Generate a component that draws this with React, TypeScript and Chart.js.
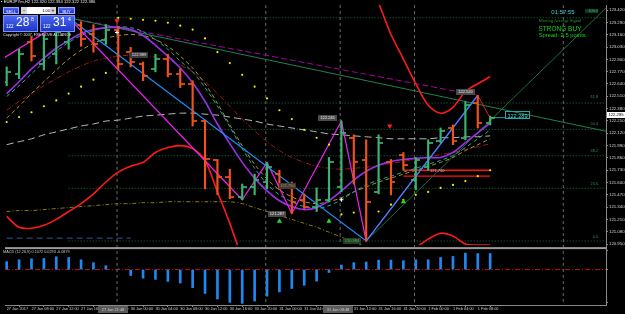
import { useEffect, useRef } from "react";
import { Chart, registerables } from "chart.js";

Chart.register(...registerables);

// ---------------- axes ----------------
const timeTickIndex = [0, 2, 4, 6, 8, 10, 12, 14, 16, 18, 20, 22, 24, 26, 28, 30, 32, 34, 36, 38];
const timeTickText = [
  "27 Jan 2017", "27 Jan 08:00", "27 Jan 12:00", "27 Jan 16:00", "27 Jan 20:00",
  "30 Jan 00:00", "30 Jan 04:00", "30 Jan 08:00", "30 Jan 12:00", "30 Jan 16:00", "30 Jan 20:00",
  "31 Jan 00:00", "31 Jan 04:00", "31 Jan 08:00", "31 Jan 12:00", "31 Jan 16:00", "31 Jan 20:00",
  "1 Feb 00:00", "1 Feb 04:00", "1 Feb 08:00",
];
const priceTicks = [123.42, 123.29, 123.16, 123.03, 122.9, 122.77, 122.64, 122.51, 122.38, 122.25, 122.12, 121.99, 121.86, 121.73, 121.6, 121.47, 121.34, 121.21, 121.08, 120.95];
const priceMin = 120.309;
const priceMax = 123.473;
const mainPaneBottom = 120.93;
const indexMin = -0.136;
const indexMax = 48.344;

// MACD pane scale and its labels
const macdMin = -0.3534;
const macdMax = 2.6397;
const macdTickPos = [0.186, 0, -0.324];
const macdTickText = ["0.3378", "0.00", "-0.3534"];

// ---------------- OHLC (EURJPY H2) ----------------
const opens = [122.664, 122.747, 123.079, 122.851, 122.954, 123.079, 123.266, 123.162, 123.100, 123.214, 122.975, 122.851, 122.799, 122.903, 122.747, 122.643, 122.249, 121.834, 121.658, 121.450, 121.554, 121.606, 121.689, 121.575, 121.419, 121.347, 121.419, 121.554, 122.073, 121.834, 121.502, 121.813, 121.896, 121.627, 121.762, 122.042, 122.176, 122.073, 122.436, 122.228];
const highs = [122.820, 123.006, 123.141, 123.162, 123.245, 123.338, 123.297, 123.266, 123.266, 123.245, 123.027, 122.871, 122.954, 122.954, 122.799, 122.674, 122.259, 121.844, 121.741, 121.585, 121.689, 121.813, 121.730, 121.606, 121.481, 121.544, 121.865, 122.249, 122.104, 122.052, 122.104, 121.844, 121.917, 121.865, 122.052, 122.176, 122.208, 122.456, 122.519, 122.301];
const lows = [122.622, 122.695, 122.882, 122.788, 122.851, 123.006, 123.037, 122.975, 123.058, 122.788, 122.820, 122.674, 122.768, 122.716, 122.602, 122.197, 121.533, 121.471, 121.430, 121.419, 121.471, 121.533, 121.523, 121.274, 121.326, 121.295, 121.398, 121.502, 121.585, 120.984, 121.481, 121.471, 121.730, 121.523, 121.730, 122.021, 122.000, 122.052, 122.176, 122.208];
const closes = [122.768, 122.954, 122.934, 123.110, 123.183, 123.266, 123.110, 123.058, 123.214, 122.851, 122.871, 122.726, 122.903, 122.747, 122.643, 122.249, 121.844, 121.658, 121.450, 121.554, 121.627, 121.762, 121.575, 121.398, 121.347, 121.419, 121.813, 122.125, 121.813, 121.398, 122.021, 121.606, 121.782, 121.834, 122.021, 122.145, 122.042, 122.415, 122.228, 122.285];

// ---------------- MACD histogram ----------------
const macd = [0.079, 0.098, 0.108, 0.111, 0.128, 0.121, 0.098, 0.069, 0.039, 0.005, -0.059, -0.085, -0.098, -0.118, -0.134, -0.180, -0.238, -0.294, -0.327, -0.337, -0.314, -0.265, -0.223, -0.189, -0.157, -0.115, -0.029, 0.046, 0.069, 0.076, 0.095, 0.095, 0.088, 0.098, 0.098, 0.121, 0.131, 0.164, 0.160, 0.160];

// ---------------- moving averages / bands ----------------
const maPurple = [122.539, 122.664, 122.799, 122.913, 123.017, 123.100, 123.172, 123.214, 123.234, 123.234, 123.214, 123.151, 123.048, 122.934, 122.809, 122.654, 122.456, 122.218, 122.010, 121.813, 121.647, 121.512, 121.409, 121.347, 121.315, 121.336, 121.409, 121.512, 121.627, 121.720, 121.782, 121.824, 121.844, 121.855, 121.865, 121.865, 121.917, 122.021, 122.125, 122.228];
const maCyan = [122.508, 122.622, 122.747, 122.871, 122.985, 123.079, 123.151, 123.203, 123.234, 123.245, 123.234, 123.193, 123.110, 123.006, 122.882, 122.768, 122.602, 122.405, 122.187, 121.958, 121.751, 121.585, 121.471, 121.398, 121.347, 121.326, 121.357, 121.419, 121.502, 121.575, 121.627, 121.668, 121.710, 121.751, 121.793, 121.834, 121.886, 121.969, 122.062, 122.156];
const maOlive = [122.280, 122.405, 122.539, 122.664, 122.788, 122.903, 122.996, 123.068, 123.120, 123.151, 123.162, 123.151, 123.110, 123.037, 122.934, 122.809, 122.643, 122.436, 122.208, 121.990, 121.793, 121.637, 121.523, 121.450, 121.398, 121.378, 121.398, 121.440, 121.502, 121.554, 121.606, 121.647, 121.689, 121.730, 121.772, 121.813, 121.865, 121.938, 122.000, 122.062];
const maDarkRed = [122.363, 122.456, 122.539, 122.622, 122.695, 122.768, 122.830, 122.882, 122.913, 122.934, 122.944, 122.944, 122.923, 122.892, 122.840, 122.768, 122.664, 122.539, 122.405, 122.270, 122.145, 122.031, 121.938, 121.865, 121.813, 121.772, 121.751, 121.741, 121.751, 121.762, 121.782, 121.803, 121.824, 121.844, 121.865, 121.896, 121.917, 121.948, 121.979, 122.010];
const maGray = [122.000, 122.031, 122.062, 122.104, 122.135, 122.166, 122.197, 122.218, 122.249, 122.259, 122.280, 122.301, 122.311, 122.322, 122.332, 122.332, 122.322, 122.311, 122.291, 122.270, 122.249, 122.218, 122.197, 122.176, 122.156, 122.135, 122.114, 122.104, 122.093, 122.083, 122.073, 122.062, 122.062, 122.062, 122.062, 122.073, 122.073, 122.083, 122.083, 122.093];
const maLowOlive = [121.295, 121.305, 121.305, 121.315, 121.326, 121.336, 121.347, 121.357, 121.367, 121.378, 121.378, 121.388, 121.388, 121.398, 121.398, 121.398, 121.398, 121.398, 121.398, 121.378, 121.336, 121.295, 121.253, 121.212, 121.170, 121.129, 121.077, 121.025, 120.973, 120.921];
const blueFaint = [121.014, 121.014, 121.014, 121.014, 121.014, 121.014, 121.014, 121.014, 121.014, 121.014, 121.014];
const bandLower = [121.243, 121.129, 121.118, 121.149, 121.212, 121.295, 121.378, 121.481, 121.606, 121.710, 121.772, 121.813, 121.917, 121.969, 121.990, 121.958, 121.834, 121.502, 121.170, 120.797, 120.465, 120.154, 119.946, 119.842, 119.791, 119.842, 119.946, 120.154, 120.361, 120.465, 120.569, 120.693, 120.797, 120.911, 121.004, 121.066, 121.036, 120.952, 120.942, 120.942];
const bandUpper = [null, null, null, null, null, null, null, null, null, null, null, null, null, null, null, null, null, null, null, null, null, null, null, null, null, null, null, null, null, 123.784, 123.494, 123.162, 122.903, 122.643, 122.415, 122.332, 122.394, 122.560, 122.643, 122.716];

// parabolic SAR
const sar = [122.239, 122.291, 122.342, 122.405, 122.467, 122.539, 122.612, 122.685, 122.757, 123.338, 123.328, 123.317, 123.307, 123.286, 123.255, 123.214, 123.120, 122.975, 122.861, 122.737, 122.612, 122.488, 122.363, 122.270, 122.156, 122.073, 122.000, 121.264, 121.284, null, 121.295, 121.367, 121.419, 121.471, 121.502, 121.544, 121.575, 121.616, 121.668, 121.730];

// zigzags / objects
const zigIndex = [-1, 5, 19, 21, 23, 27, 29, 38];
const zigPrice = [122.851, 123.338, 121.419, 121.813, 121.274, 122.249, 120.984, 122.519];
const blueZigIndex = [5, 29, 38];
const blueZigPrice = [123.338, 120.984, 122.519];
const lastLegIndex = [38, 39];
const lastLegPrice = [122.519, 122.280];
const greenTrendIndex = [5, 48.344];
const greenTrendPrice = [123.338, 122.141];
const magentaTrendIndex = [5, 38];
const magentaTrendPrice = [123.338, 122.519];
const fanIndex = [29, 48.344];
const fanPrice = [120.984, 123.442];
const fibStart = 5;
const fibNames = ["0.0", "23.6", "38.2", "50.0", "61.8", "100.0"];
const fibPrices = [120.984, 121.540, 121.883, 122.161, 122.439, 123.338];
const redLevelPrices = [121.730, 121.668];
const redLevelFrom = 32;
const redLevelTo = 39;
const currentPrice = 122.285;
const vLinesFull = [8.9, 20.9, 32.9, 44.9];
const vLinesMain = [26.9];
const downArrowX = [8.9, 30.9];
const downArrowY = [123.307, 122.197];
const upArrowX = [22, 26, 32];
const upArrowY = [121.191, 121.191, 121.398];
const crossX = [8.9, 27];
const crossY = [123.183, 121.419];

const BULL = "#3cb371";
const BEAR = "#f0521e";
const mainClip = { left: 0, top: 0, right: 0, bottom: -60 };

const zip = (xs: number[], ys: (number | null)[]) =>
  xs.map((x, i) => ({ x, y: ys[i] })).filter((p) => p.y !== null);
const ser = (ys: (number | null)[]) => zip(ys.map((_, i) => i), ys);

function tickImg(color: string, left: boolean) {
  const c = document.createElement("canvas");
  c.width = 9;
  c.height = 2;
  const g = c.getContext("2d")!;
  g.fillStyle = color;
  g.globalAlpha = 0.85;
  g.fillRect(left ? 0 : 5, 0, 4, 2);
  return c;
}

const line = (data: any[], color: string, width: number, dash: number[] = [], extra: any = {}) => ({
  type: "line",
  data,
  borderColor: color,
  borderWidth: width,
  borderDash: dash,
  pointRadius: 0,
  tension: 0,
  clip: mainClip,
  ...extra,
});

const panes = {
  id: "panes",
  afterDatasetsDraw(chart: any) {
    const { ctx, chartArea, scales } = chart;
    const y = scales.y.getPixelForValue(mainPaneBottom);
    ctx.save();
    ctx.fillStyle = "#9a9a9a";
    ctx.fillRect(chartArea.left, y + 1, chartArea.right - chartArea.left, 2);
    ctx.restore();
  },
};

type TP = {
  x: number; y: number; s: number; c: string; t: string; f?: string; bg?: string; bd?: string;
  w?: number; h?: number; a?: "left" | "center" | "right"; b?: boolean;
};
const T = (p: TP) => (
  <div
    style={{
      position: "absolute",
      left: p.x,
      top: p.y,
      width: p.w,
      height: p.h,
      fontSize: p.s,
      lineHeight: p.h ? p.h + "px" : p.s * 1.15 + "px",
      color: p.c,
      fontFamily: p.f || "'Liberation Sans', Arial, sans-serif",
      background: p.bg,
      border: p.bd,
      textAlign: p.a || "left",
      fontWeight: p.b ? "bold" : "normal",
      whiteSpace: "nowrap",
      boxSizing: "border-box",
    }}
  >
    {p.t}
  </div>
);

export default function App() {
  const ref = useRef<HTMLCanvasElement>(null);
  useEffect(() => {
    document.body.style.margin = "0";
    document.body.style.background = "#000";
    const gL = tickImg(BULL, true), gR = tickImg(BULL, false);
    const rL = tickImg(BEAR, true), rR = tickImg(BEAR, false);
    const isBull = opens.map((o, i) => closes[i] >= o);

    const datasets: any[] = [
      { type: "scatter", data: zip(downArrowX, downArrowY), pointStyle: "triangle", rotation: 180, pointRadius: 3, backgroundColor: "#ff2020", borderWidth: 0, clip: mainClip },
      { type: "scatter", data: zip(upArrowX, upArrowY), pointStyle: "triangle", pointRadius: 3, backgroundColor: "#22dd22", borderWidth: 0, clip: mainClip },
      { type: "scatter", data: zip(crossX, crossY), pointStyle: "cross", pointRadius: 2, borderColor: "#ffffff", borderWidth: 1, clip: mainClip },
      { type: "scatter", data: ser(sar), pointStyle: "circle", pointRadius: 1.1, backgroundColor: "#f0f000", borderWidth: 0, clip: mainClip },
      { type: "scatter", data: ser(opens), pointStyle: isBull.map((b) => (b ? gL : rL)), pointRadius: 2, clip: mainClip },
      { type: "scatter", data: ser(closes), pointStyle: isBull.map((b) => (b ? gR : rR)), pointRadius: 2, clip: mainClip },
      {
        type: "bar",
        data: highs.map((h, i) => ({ x: i, y: [lows[i], h] })),
        backgroundColor: isBull.map((b) => (b ? BULL : BEAR)),
        barThickness: 1.5,
        grouped: false,
        borderWidth: 0,
        clip: mainClip,
      },
      line(zip(lastLegIndex, lastLegPrice), "#e02020", 1),
      line(zip(blueZigIndex, blueZigPrice), "#1e90ff", 1.2),
      line(zip(zigIndex, zigPrice), "#ee22ee", 1.2),
      line(ser(bandLower), "#ff1a1a", 1.6, [], { tension: 0.3 }),
      line(ser(bandUpper), "#ff1a1a", 1.6, [], { tension: 0.3 }),
      line(ser(maPurple), "#9b30e8", 1.6, [], { tension: 0.3 }),
      line(ser(maCyan), "#1fa8a0", 1, [4, 3], { tension: 0.3 }),
      line(ser(maOlive), "#a89520", 1, [4, 3], { tension: 0.3 }),
      line(ser(maDarkRed), "#9a1a1a", 1, [5, 2, 1, 2], { tension: 0.3 }),
      line(ser(maGray), "#b8b8b8", 1, [7, 4], { tension: 0.3 }),
      line(ser(maLowOlive), "#8a7a12", 1, [4, 2, 1, 2], { tension: 0.3 }),
      line(ser(blueFaint), "#2a5a9a", 1, [6, 4]),
      line(zip(greenTrendIndex, greenTrendPrice), "#1f8050", 1),
      line(zip(magentaTrendIndex, magentaTrendPrice), "#a400a4", 1, [6, 3]),
      line(zip(fanIndex, fanPrice), "#1a7040", 1),
      ...redLevelPrices.map((p) => line(zip([redLevelFrom, redLevelTo], [p, p]), "#ff1010", 1.3)),
      line(zip([39, 40.3], [currentPrice, currentPrice]), "#2aa0a0", 1),
      ...fibPrices.map((p) => line(zip([fibStart, indexMax], [p, p]), "#137a3c", 1, [1, 2])),
      ...vLinesMain.map((x) => line(zip([x, x], [priceMax, mainPaneBottom]), "#6a6a6a", 1, [3, 3])),
      ...vLinesFull.map((x) => ({ ...line(zip([x, x], [priceMax, priceMin]), "#6a6a6a", 1, [3, 3]), clip: undefined })),
      {
        type: "bar",
        data: macd.map((v, i) => ({ x: i, y: v })),
        yAxisID: "y2",
        backgroundColor: "#1e88f0",
        barThickness: 2,
        grouped: false,
        borderWidth: 0,
      },
      { type: "line", data: zip([indexMin, indexMax], [0, 0]), yAxisID: "y2", borderColor: "#c01010", borderWidth: 1, borderDash: [5, 2, 1, 2], pointRadius: 0 },
    ];

    const chart = new Chart(ref.current!, {
      type: "scatter",
      data: { datasets },
      options: {
        responsive: false,
        devicePixelRatio: 1,
        animation: false,
        events: [],
        layout: { padding: 0 },
        plugins: { legend: { display: false }, tooltip: { enabled: false } },
        scales: {
          x: {
            type: "linear",
            min: indexMin,
            max: indexMax,
            position: "bottom",
            offset: false,
            grid: { display: true, drawOnChartArea: false, drawTicks: true, tickLength: 2, color: "#8a8a8a" },
            border: { display: true, color: "#8a8a8a" },
            ticks: {
              color: "#cfcfcf",
              font: { size: 3.9, family: "'Liberation Sans', Arial, sans-serif" },
              align: "start",
              padding: 0,
              autoSkip: false,
              maxRotation: 0,
              minRotation: 0,
              callback: (v: any) => {
                const k = timeTickIndex.indexOf(Number(v));
                return k >= 0 ? timeTickText[k] : "";
              },
            },
            afterBuildTicks: (s: any) => {
              s.ticks = timeTickIndex.map((v) => ({ value: v }));
            },
            afterFit: (s: any) => {
              s.height = 9;
              s.paddingLeft = 0;
              s.paddingRight = 0;
            },
          },
          y: {
            type: "linear",
            position: "right",
            weight: 1,
            min: priceMin,
            max: priceMax,
            grid: { display: true, drawOnChartArea: false, drawTicks: true, tickLength: 2, color: "#8a8a8a" },
            border: { display: true, color: "#8a8a8a" },
            ticks: {
              color: "#d8d8d8",
              font: { size: 4.3, family: "'Liberation Sans', Arial, sans-serif" },
              padding: 1,
              callback: (v: any) => Number(v).toFixed(3),
            },
            afterBuildTicks: (s: any) => {
              s.ticks = priceTicks.map((v) => ({ value: v }));
            },
            afterFit: (s: any) => {
              s.width = 19;
              s.paddingTop = 0;
              s.paddingBottom = 0;
            },
          },
          y2: {
            type: "linear",
            position: "right",
            weight: 0,
            min: macdMin,
            max: macdMax,
            grid: { display: true, drawOnChartArea: false, drawTicks: true, tickLength: 2, color: "#8a8a8a" },
            border: { display: false },
            ticks: {
              color: "#d8d8d8",
              font: { size: 4.3, family: "'Liberation Sans', Arial, sans-serif" },
              padding: 1,
              callback: (_v: any, i: number) => macdTickText[i],
            },
            afterBuildTicks: (s: any) => {
              s.ticks = macdTickPos.map((v) => ({ value: v }));
            },
            afterFit: (s: any) => {
              s.width = 0;
              s.paddingTop = 0;
              s.paddingBottom = 0;
            },
          },
        },
      } as any,
      plugins: [panes],
    });
    return () => chart.destroy();
  }, []);

  const blue = "linear-gradient(#4a68f4, #1c36c4)";
  return (
    <div style={{ position: "fixed", left: 0, top: 0, width: 625, height: 314, background: "#000", overflow: "hidden" }}>
      <canvas ref={ref} width={625} height={314} style={{ position: "absolute", left: 0, top: 0 }} />
      {/* header */}
      <T x={1} y={0} s={4.2} c="#e8e8e8" t="▪ EURJPYm,H2  122.320 122.394 122.322 122.386" />
      {/* trade panel */}
      <T x={3} y={7} w={16} h={7} s={4} c="#fff" t="SELL" a="center" bg={blue} bd="1px solid #9aa8ff" />
      <T x={21} y={7} w={6} h={7} s={5} c="#000" t="-" a="center" bg="#d4d4d4" />
      <T x={27} y={7} w={23} h={7} s={4} c="#000" t="1.00 " a="right" bg="#ffffff" />
      <T x={50} y={7} w={6} h={7} s={5} c="#000" t="+" a="center" bg="#d4d4d4" />
      <T x={58} y={7} w={17} h={7} s={4} c="#fff" t="BUY" a="center" bg={blue} bd="1px solid #9aa8ff" />
      <div style={{ position: "absolute", left: 3, top: 15, width: 35, height: 17, background: blue, border: "1px solid #7f90ff", boxSizing: "border-box" }} />
      <div style={{ position: "absolute", left: 40, top: 15, width: 35, height: 17, background: blue, border: "1px solid #7f90ff", boxSizing: "border-box" }} />
      <T x={6} y={24} s={4.5} c="#fff" t="122" />
      <T x={16} y={16} s={12} c="#fff" t="28" />
      <T x={31} y={16.5} s={5} c="#fff" t="8" />
      <T x={43} y={24} s={4.5} c="#fff" t="122" />
      <T x={53} y={16} s={12} c="#fff" t="31" />
      <T x={68} y={16.5} s={5} c="#fff" t="4" />
      <T x={3} y={33} s={3.7} c="#e0e0e0" t="Copyright © 2007, FXE DOVE ALLIANCE" />
      {/* signal texts */}
      <T x={528} y={9} w={70} s={6} c="#40d0d0" t="01:57:55" a="center" />
      <T x={525} y={17.5} w={70} s={4.5} c="#2f9a2f" t="Moving Average Signal" a="center" f="'Liberation Serif', serif" />
      <T x={525} y={24.5} w={70} s={6.5} c="#14d414" t="STRONG BUY" a="center" />
      <T x={528} y={32} w={70} s={5.8} c="#14d414" t="Spread: 2.5 points." a="center" />
      {/* fib labels */}
      <T x={585} y={9} w={13} s={3.8} c="#3ac070" t="100.0" a="right" bg="#0c3a1e" />
      <T x={583} y={95} w={15} s={3.8} c="#2a9a55" t="61.8" a="right" />
      <T x={583} y={122} w={15} s={3.8} c="#2a9a55" t="50.0" a="right" />
      <T x={583} y={148.5} w={15} s={3.8} c="#2a9a55" t="38.2" a="right" />
      <T x={583} y={181.5} w={15} s={3.8} c="#2a9a55" t="23.6" a="right" />
      <T x={583} y={235} w={15} s={3.8} c="#2a9a55" t="0.0" a="right" />
      {/* chart labels */}
      <T x={130} y={52} w={18} h={6} s={4} c="#f0f0f0" t="122.989" a="center" bg="#3c3c3c" />
      <T x={318} y={115} w={19} h={6} s={4} c="#f0f0f0" t="122.245" a="center" bg="#4a4a4a" />
      <T x={456} y={89} w={19} h={6} s={4} c="#f0f0f0" t="122.520" a="center" bg="#4a4a4a" />
      <T x={279} y={183} w={17} h={6} s={4} c="#d09040" t="121.750" a="center" bg="#3a3a3a" />
      <T x={268} y={211} w={18} h={6} s={4} c="#f0f0f0" t="121.287" a="center" bg="#4a4a4a" />
      <T x={343} y={238} w={18} h={6} s={4} c="#40c040" t="120.984" a="center" bg="#2a3a2a" />
      <T x={430} y={168.5} s={4} c="#c8c8c8" t="121.740" />
      <T x={505} y={110.5} w={25} h={8} s={5.6} c="#40e0e0" t="122.289" a="center" bd="1px solid #2aa8a8" />
      {/* axis boxes */}
      <T x={607} y={112} w={18} h={6} s={4.2} c="#000" t="122.285" a="center" bg="#ffffff" />
      <T x={3} y={250} s={3.8} c="#c8c8c8" t="MACD (12,26,9) 0.1072 0.0293 -0.0879" />
      <T x={98} y={306} w={30} h={7} s={3.9} c="#d0d0d0" t="27 Jan 21:48" a="center" bg="#5a5a5a" />
      <T x={323} y={306} w={30} h={7} s={3.9} c="#d0d0d0" t="31 Jan 09:48" a="center" bg="#5a5a5a" />
    </div>
  );
}
